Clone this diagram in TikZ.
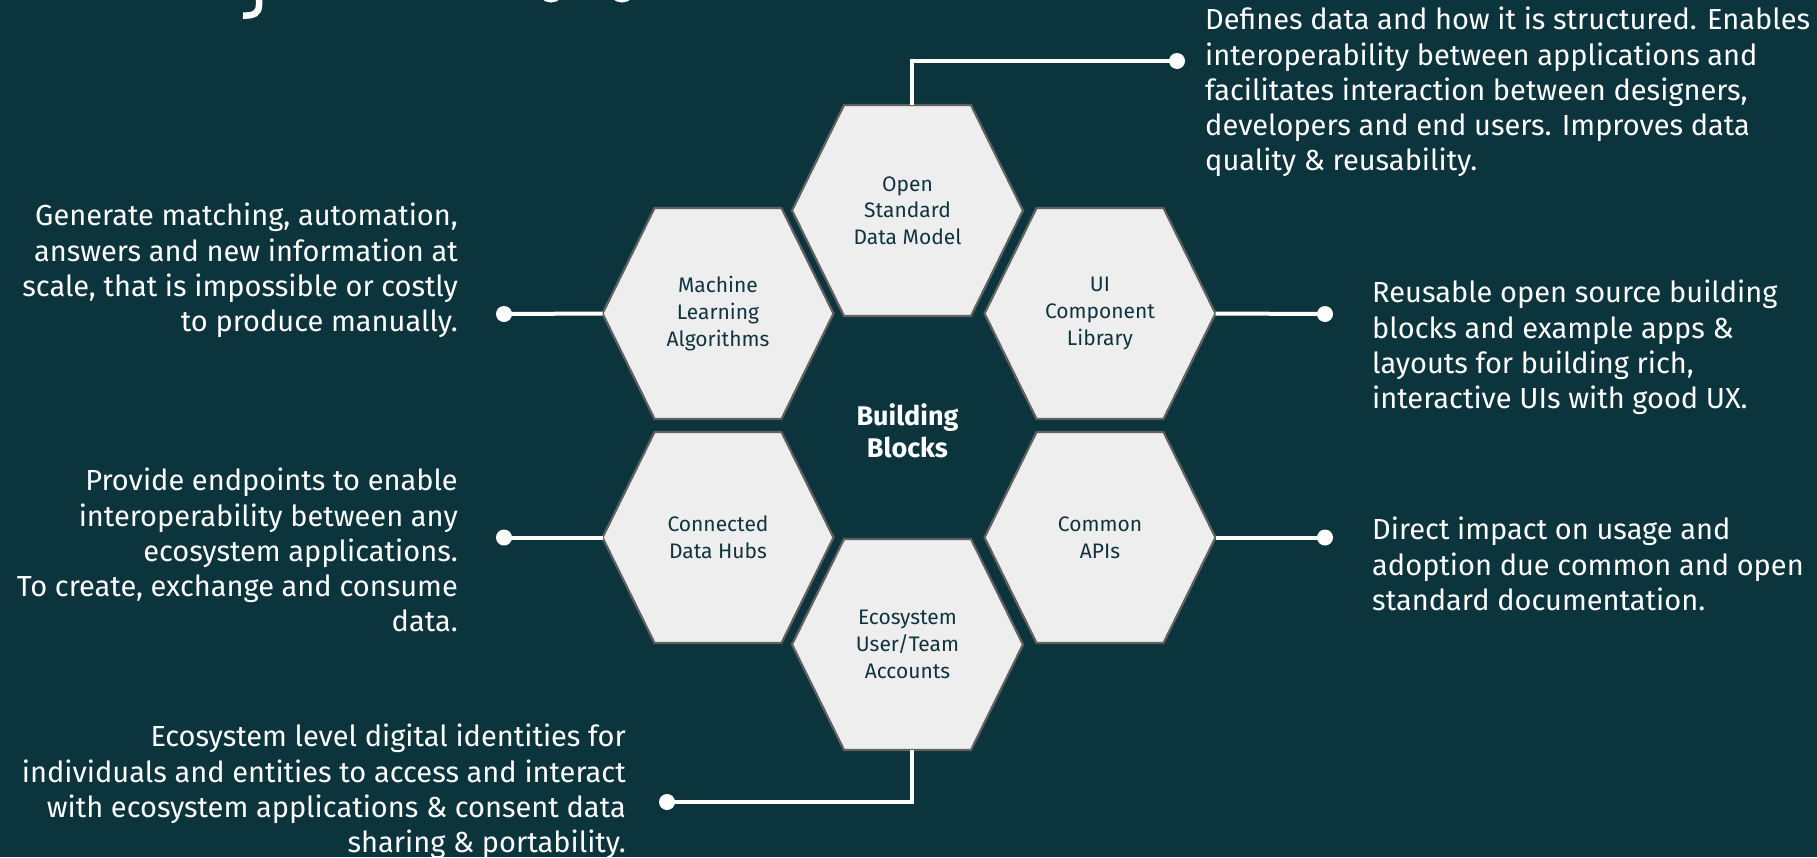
\documentclass[tikz,border=0pt]{standalone}
\usepackage{fontspec}
\setmainfont{Fira Sans}
\usetikzlibrary{calc}
\definecolor{bg}{HTML}{0C343D}
\definecolor{hexfill}{HTML}{EEEEEE}
\definecolor{hexline}{HTML}{606060}
\definecolor{hextext}{HTML}{10343F}
\tikzset{
  hexshape/.style={fill=hexfill, draw=hexline, line width=2.2pt, line join=miter},
  hexlabel/.style={text=hextext, align=center, inner sep=0pt, font=\fontsize{21}{26.7}\selectfont},
  conn/.style={draw=white, line width=4pt},
  dotnode/.style={circle, fill=white, inner sep=0pt, minimum size=16pt},
  desc/.style={text=white, inner sep=0pt, font=\fontsize{29}{35.2}\selectfont},
  descL/.style={desc, align=right, anchor=north east},
  descR/.style={desc, align=left, anchor=north west},
}
\newcommand\hexnode[4]{%
  \draw[hexshape] ($(#2,#3)+(-115.5,0)$) -- ++(52,-105.5) -- ++(127,0) -- ++(52,105.5)
     -- ++(-52,105.5) -- ++(-127,0) -- cycle;
  \node[hexlabel] (#1) at (#2,#3) {#4};
  \coordinate (#1-W) at ($(#2,#3)+(-115.5,0)$);
  \coordinate (#1-E) at ($(#2,#3)+(115.5,0)$);
  \coordinate (#1-N) at ($(#2,#3)+(4.5,-105.5)$);
  \coordinate (#1-S) at ($(#2,#3)+(4.5,105.5)$);
}
\begin{document}
\begin{tikzpicture}[x=1pt,y=-1pt]
\fill[bg] (0,0) rectangle (1817,857);
\useasboundingbox (0,0) rectangle (1817,857);
% fragments of a title cut off at the top edge
\begin{scope}
  \clip (0,0) rectangle (1817,857);
  \draw[white, line width=6.5pt] (259,-10) -- (259,5) .. controls (259,13) and (254,16) .. (243,15.5);
  \draw[white, line width=5pt] (551,-13) ellipse (12 and 13);
  \draw[white, line width=5pt] (622,-13) ellipse (12 and 13);
\end{scope}
% hexagons
\hexnode{top}{907.5}{210.5}{Open\\Standard\\Data Model}
\hexnode{ml}{718}{313.5}{Machine\\Learning\\Algorithms}
\hexnode{ui}{1100}{313.5}{UI\\Component\\Library}
\hexnode{hubs}{718}{537.5}{Connected\\Data Hubs}
\hexnode{apis}{1100}{537.5}{Common\\APIs}
\hexnode{eco}{907.5}{644.5}{Ecosystem\\User/Team\\Accounts}
\node[text=white, align=center, font=\bfseries\fontsize{27}{32.5}\selectfont] (bb) at (907.5,431) {Building\\Blocks};
% dots
\node[dotnode] (dtop) at (1177,61) {};
\node[dotnode] (dml) at (504,314) {};
\node[dotnode] (dui) at (1325,314) {};
\node[dotnode] (dhubs) at (504,537.5) {};
\node[dotnode] (dapis) at (1325,537.5) {};
\node[dotnode] (deco) at (667,802) {};
% connectors
\draw[conn] (top-N) |- (dtop.center);
\draw[conn] (ml-W) -- (dml.center);
\draw[conn] (ui-E) -- (dui.center);
\draw[conn] (hubs-W) -- (dhubs.center);
\draw[conn] (apis-E) -- (dapis.center);
\draw[conn] (eco-S) |- (deco.center);
% descriptions
\node[descR] (ttop) at (1205,7) {Defines data and how it is structured. Enables\\interoperability between applications and\\facilitates interaction between designers,\\developers and end users. Improves data\\quality \& reusability.};
\node[descL] (tml) at (458,203) {Generate matching, automation,\\answers and new information at\\scale, that is impossible or costly\\to produce manually.};
\node[descR] (tui) at (1372,280) {Reusable open source building\\blocks and example apps \&\\layouts for building rich,\\interactive UIs with good UX.};
\node[descL] (thubs) at (458,468) {Provide endpoints to enable\\interoperability between any\\ecosystem applications.\\To create, exchange and consume\\data.};
\node[descR] (tapis) at (1372,517) {Direct impact on usage and\\adoption due common and open\\standard documentation.};
\node[descL] (teco) at (626,724) {Ecosystem level digital identities for\\individuals and entities to access and interact\\with ecosystem applications \& consent data\\sharing \& portability.};
\end{tikzpicture}
\end{document}
